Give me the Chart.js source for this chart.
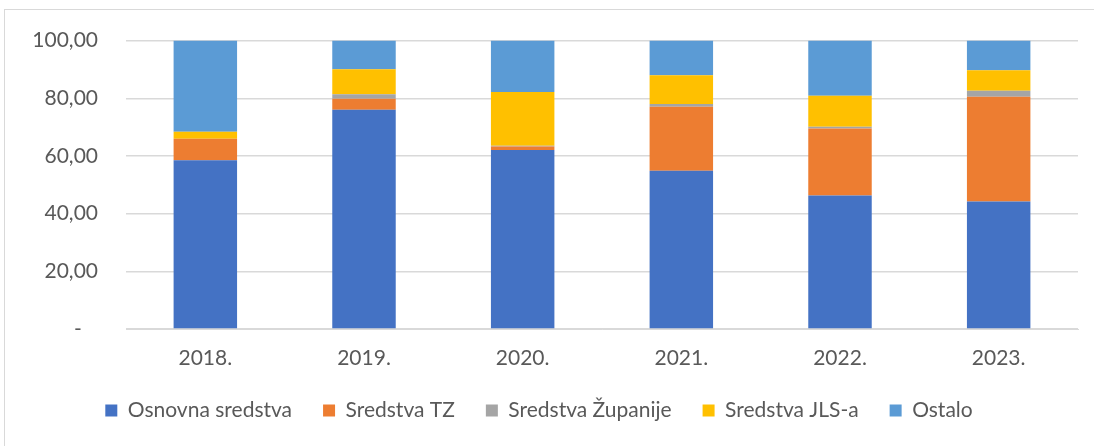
<!DOCTYPE html>
<html>
<head>
<meta charset="utf-8">
<script src="https://cdn.jsdelivr.net/npm/chart.js@4"></script>
<style>
  html, body { margin: 0; padding: 0; background: #fff; }
  #wrap { position: relative; width: 1094px; height: 446px; }
  #frame { position: absolute; left: 4px; top: 9px; width: 1200px; height: 500px; border-left: 1px solid #d9d9d9; border-top: 1px solid #d9d9d9; }
  canvas { position: absolute; left: 0; top: 0; }
</style>
</head>
<body>
<div id="wrap">
  <div id="frame"></div>
  <canvas id="chart" width="1094" height="446"></canvas>
</div>
<script>
const years = ['2018.', '2019.', '2020.', '2021.', '2022.', '2023.'];
const osnovna = [58.5, 76.0, 62.1, 54.9, 46.3, 44.2];
const sredstvaTZ = [7.5, 3.8, 1.2, 22.2, 23.2, 36.3];
const zupanija = [0.0, 1.6, 0.2, 0.9, 0.6, 2.1];
const jls = [2.4, 8.7, 18.7, 10.0, 10.8, 7.1];
const ostalo = [31.6, 9.9, 17.8, 12.0, 19.1, 10.3];

const font = "Lato, 'Liberation Sans', sans-serif";

const data = {
  labels: years,
  datasets: [
    { label: 'Osnovna sredstva', data: osnovna, backgroundColor: '#4472C4' },
    { label: 'Sredstva TZ', data: sredstvaTZ, backgroundColor: '#ED7D31' },
    { label: 'Sredstva Županije', data: zupanija, backgroundColor: '#A5A5A5' },
    { label: 'Sredstva JLS-a', data: jls, backgroundColor: '#FFC000' },
    { label: 'Ostalo', data: ostalo, backgroundColor: '#5B9BD5' },
  ],
};

const config = {
  type: 'bar',
  data: data,
  options: {
    responsive: false,
    animation: false,
    layout: { padding: { top: 39, right: 16, bottom: 15, left: 0 } },
    datasets: { bar: { categoryPercentage: 1, barPercentage: 0.4, borderWidth: 0 } },
    plugins: {
      tooltip: { enabled: false },
      legend: {
        position: 'bottom',
        labels: {
          boxWidth: 12,
          boxHeight: 12,
          padding: 31,
          color: '#595959',
          font: { family: font, size: 21 },
        },
      },
    },
    scales: {
      x: {
        stacked: true,
        grid: { display: false, drawTicks: false },
        border: { display: true, color: '#d9d9d9', width: 1 },
        ticks: { color: '#595959', padding: 17, font: { family: font, size: 21 } },
        afterFit: (s) => { s.height = 40; },
      },
      y: {
        stacked: true,
        min: 0,
        max: 100,
        grid: { color: '#d9d9d9', lineWidth: 1.5, drawTicks: false },
        border: { display: false },
        ticks: {
          stepSize: 20,
          padding: 28,
          color: '#595959',
          font: { family: font, size: 21 },
          callback: (v) => v === 0 ? '-   ' : v.toFixed(2).replace('.', ','),
        },
        afterFit: (s) => { s.width = 126; },
      },
    },
  },
};

var chart = new Chart(document.getElementById('chart'), config);
</script>
</body>
</html>
